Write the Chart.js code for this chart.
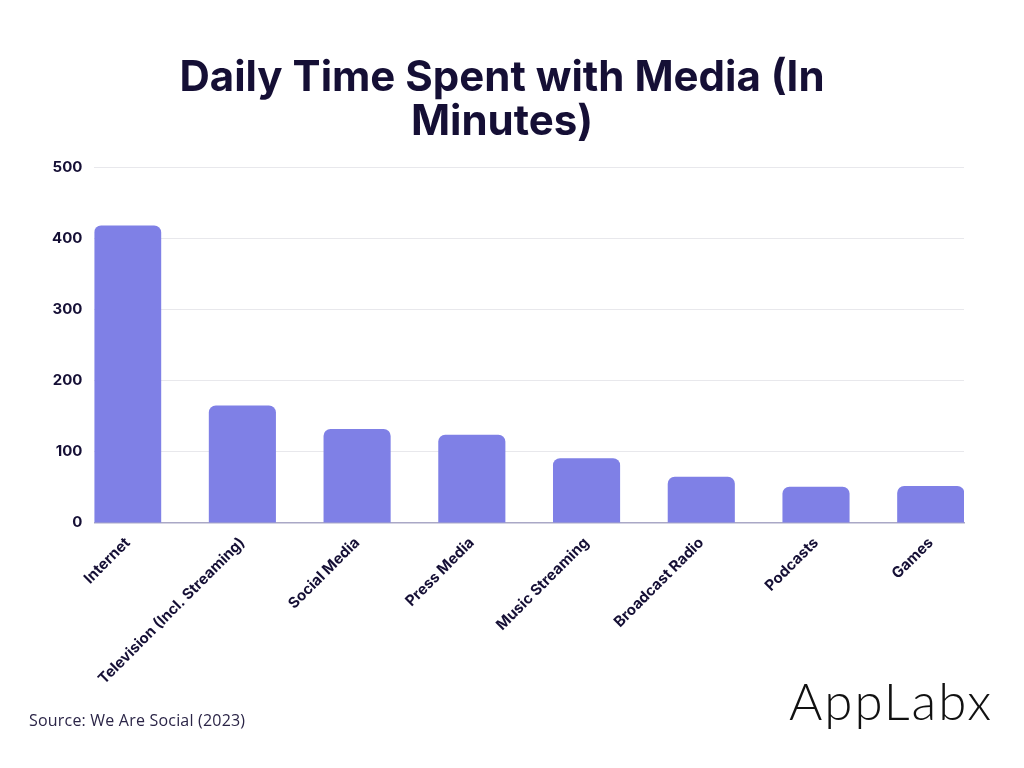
<!DOCTYPE html>
<html>
<head>
<meta charset="utf-8">
<script src="https://cdn.jsdelivr.net/npm/chart.js@4"></script>
<style>
  html, body { margin: 0; padding: 0; background: #fff; }
  #wrap { position: relative; width: 1024px; height: 768px; }
  #source { position: absolute; left: 29px; top: 709px; font: 16px "Open Sans", sans-serif; color: #2b2547; letter-spacing: 0.2px; }
  #logo { position: absolute; left: 789px; top: 670px; font: 300 51px "Lato", sans-serif; color: #111; letter-spacing: 2px; }
</style>
</head>
<body>
<div id="wrap">
  <canvas id="mediaChart" width="1024" height="768"></canvas>
  <div id="source">Source: We Are Social (2023)</div>
  <div id="logo">AppLabx</div>
</div>
<script>
// 数据
const categories = ['Internet', 'Television (Incl. Streaming)', 'Social Media', 'Press Media', 'Music Streaming', 'Broadcast Radio', 'Podcasts', 'Games'];
const minutes = [418, 165, 132, 124, 91, 65, 51, 52];
const yTicks = [0, 100, 200, 300, 400, 500];
const titleLines = ['Daily Time Spent with Media (In', 'Minutes)'];

document.addEventListener('DOMContentLoaded', function() {
    const ctx = document.getElementById('mediaChart').getContext('2d');
    new Chart(ctx, {
        type: 'bar',
        data: {
            datasets: [{
                label: 'Minutes',
                data: categories.map((c, i) => ({ x: i, y: minutes[i] })),
                backgroundColor: '#7f80e6',
                borderRadius: { topLeft: 7, topRight: 7 },
                borderSkipped: 'start',
                barPercentage: 0.585,
                categoryPercentage: 1
            }]
        },
        options: {
            responsive: false,
            animation: false,
            layout: { padding: { left: 40, right: 60, top: 56, bottom: 77 } },
            plugins: {
                legend: { display: false },
                tooltip: { enabled: false },
                title: {
                    display: true,
                    text: titleLines,
                    color: '#150f35',
                    font: { family: 'Inter', size: 42, weight: 'bold', lineHeight: 1.05 },
                    padding: { top: 0, bottom: 23 }
                }
            },
            scales: {
                x: {
                    type: 'linear',
                    offset: false,
                    min: -0.29,
                    max: 7.29,
                    afterBuildTicks: (scale) => { scale.ticks = categories.map((c, i) => ({ value: i })); },
                    ticks: {
                        autoSkip: false,
                        maxRotation: 45,
                        minRotation: 45,
                        color: '#150f35',
                        font: { family: 'Inter', size: 15, weight: 'bold' },
                        callback: (v) => categories[v]
                    },
                    grid: { display: false },
                    border: { color: '#aaa8c6', width: 1.5 }
                },
                y: {
                    min: 0,
                    max: 500,
                    afterBuildTicks: (scale) => { scale.ticks = yTicks.map(v => ({ value: v })); },
                    ticks: {
                        color: '#150f35',
                        padding: 12,
                        font: { family: 'Inter', size: 15, weight: 'bold' }
                    },
                    grid: { color: '#e8e8ec', drawTicks: false },
                    border: { display: false }
                }
            }
        }
    });
});
</script>
</body>
</html>
